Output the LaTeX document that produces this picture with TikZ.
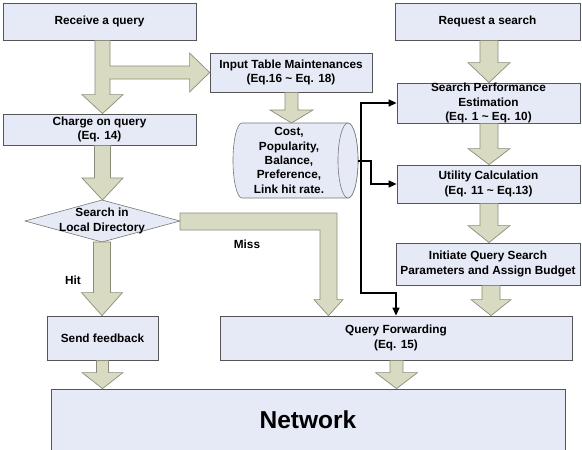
\documentclass[tikz,border=0pt]{standalone}
\usepackage{fontspec}
\setmainfont{Liberation Sans}
\usetikzlibrary{arrows.meta,calc}
\definecolor{boxfill}{RGB}{230,234,246}
\definecolor{arrfill}{RGB}{216,219,193}
\definecolor{arrline}{RGB}{140,140,122}
\definecolor{boxline}{RGB}{85,85,85}
\newcommand{\blkdown}[6]{%
  \path[blk] let \p1=(#2), \p2=(#3) in
    (#1pt-#4pt,\y1) -- (#1pt+#4pt,\y1) -- (#1pt+#4pt,\y2+#6pt) -- (#1pt+#5pt,\y2+#6pt)
    -- (#1pt,\y2) -- (#1pt-#5pt,\y2+#6pt) -- (#1pt-#4pt,\y2+#6pt) -- cycle;}
\begin{document}
\begin{tikzpicture}[x=1pt,y=1pt,
  box/.style={draw=boxline, fill=boxfill, line width=0.8pt, inner sep=0pt, align=center,
    font=\fontsize{11.8}{14.3}\selectfont\bfseries},
  blk/.style={draw=arrline, fill=arrfill, line width=0.7pt, line join=miter},
  conn/.style={draw=black, line width=1.4pt, -{Triangle[length=8pt,width=7pt]}},
  lbl/.style={font=\fontsize{11.8}{14.3}\selectfont\bfseries, inner sep=0pt, align=center},
  cylst/.style={draw=boxline!80, fill=boxfill, line width=0.6pt}]
\useasboundingbox (0,0) rectangle (582,-450);
\clip (0,0) rectangle (582,-450);

% boxes
\node[box, minimum width=193pt, minimum height=37pt] (recv) at (99.5,-21.5) {Receive a query};
\node[box, minimum width=193pt, minimum height=31pt] (charge) at (99.5,-129.5) {Charge on query\\(Eq. 14)};
\node[box, minimum width=111pt, minimum height=44pt] (send) at (102.5,-338) {Send feedback};
\node[box, minimum width=162pt, minimum height=39pt] (input) at (291,-72.5) {Input Table Maintenances\\(Eq.16 \textasciitilde\ Eq. 18)};
\node[box, minimum width=185pt, minimum height=37pt] (request) at (487.5,-21.5) {Request a search};
\node[box, minimum width=183pt, minimum height=40pt] (perf) at (488.5,-103) {Search Performance\\Estimation\\(Eq. 1 \textasciitilde\ Eq. 10)};
\node[box, minimum width=183pt, minimum height=38pt] (util) at (488.5,-184) {Utility Calculation\\(Eq. 11 \textasciitilde\ Eq.13)};
\node[box, minimum width=184pt, minimum height=42pt] (init) at (488,-264) {Initiate Query Search\\Parameters and Assign Budget};
\node[box, minimum width=352pt, minimum height=44pt] (fwd) at (396,-338) {Query Forwarding\\(Eq. 15)};
\node[box, minimum width=514pt, minimum height=64pt, font=\fontsize{24.5}{28}\selectfont\bfseries] (net) at (308,-421) {\raisebox{3pt}{Network}};

% diamond
\coordinate (dT) at (102,-200);
\coordinate (dB) at (102,-242);
\coordinate (dL) at (25,-221);
\coordinate (dR) at (180,-221);
\path[draw=boxline!80, fill=boxfill, line width=0.6pt] (dL) -- (dT) -- (dR) -- (dB) -- cycle;
\node[lbl] (dia) at (102,-221) {Search in\\Local Directory};

% cylinder
\path[cylst] (348,-123) -- (242,-123) arc[start angle=90, end angle=270, x radius=9, y radius=37.5]
  -- (348,-198) arc[start angle=-90, end angle=90, x radius=10, y radius=37.5] -- cycle;
\draw[cylst] (348,-160.5) ellipse[x radius=10, y radius=37.5];
\node[lbl] (cyl) at (289,-160.5) {Cost,\\Popularity,\\Balance,\\Preference,\\Link hit rate.};
\coordinate (cylT) at (291.5,-123);
\coordinate (cylE) at (358,-161);
\coordinate (jn) at (361,-161);

% block arrows
\path[blk] let \p1=(recv.south), \p2=(charge.north), \p3=(input.west) in
  (95pt,\y1) -- (110pt,\y1) -- (110pt,\y3+6.5pt) -- (\x3-20pt,\y3+6.5pt) -- (\x3-20pt,\y3+19.5pt)
  -- (\x3,\y3) -- (\x3-20pt,\y3-19.5pt) -- (\x3-20pt,\y3-6.5pt) -- (110pt,\y3-6.5pt)
  -- (110pt,\y2+19pt) -- (123pt,\y2+19pt) -- (102.5pt,\y2) -- (82pt,\y2+19pt) -- (95pt,\y2+19pt) -- cycle;
\blkdown{102.5}{charge.south}{dT}{8}{20.5}{22}
\blkdown{102}{dB}{send.north}{8.5}{20.5}{23}
\blkdown{102.5}{send.south}{net.north}{6}{20.5}{16}
\blkdown{291.5}{input.south}{cylT}{6.5}{21.5}{13}
\blkdown{489}{request.south}{perf.north}{9}{21}{20}
\blkdown{489}{perf.south}{util.north}{9}{21}{16}
\blkdown{489}{util.south}{init.north}{9}{21}{17}
\blkdown{491}{init.south}{fwd.north}{9}{20}{16}
\blkdown{396.5}{fwd.south}{net.north}{6.5}{21}{16}
\path[blk] let \p1=(dR), \p2=(fwd.north) in
  (\x1,-213pt) -- (337pt,-213pt) -- (337pt,\y2+16pt) -- (343pt,\y2+16pt) -- (328.5pt,\y2)
  -- (314pt,\y2+16pt) -- (320pt,\y2+16pt) -- (320pt,-230pt) -- (\x1,-230pt) -- cycle;

% line connectors
\draw[conn] (cylE) -- (jn) |- (perf.west);
\draw[conn] (jn) -- ++(10,0) |- (util.west);
\draw[conn] (jn) -- ++(0,-132) -| (fwd.north);

% labels
\node[lbl] (hit) at (73,-280) {Hit};
\node[lbl] (miss) at (247,-244) {Miss};
\end{tikzpicture}
\end{document}
